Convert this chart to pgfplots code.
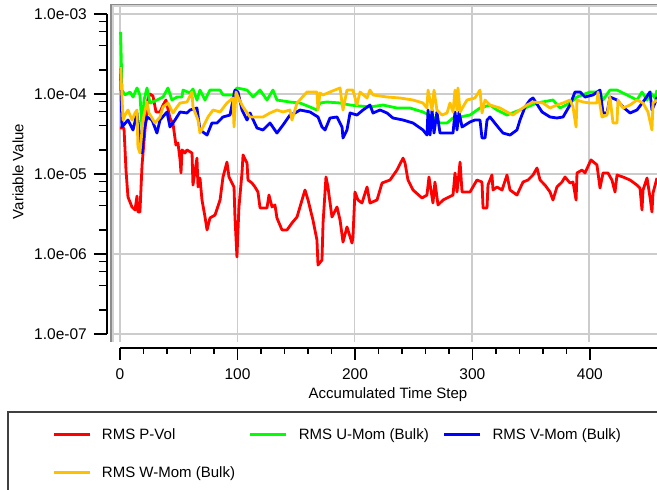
\documentclass[border=0pt]{standalone}
\usepackage{fontspec}
\setmainfont{Liberation Sans}
\usepackage{pgfplots}
\pgfplotsset{compat=1.18}
\definecolor{cred}{RGB}{255,0,0}
\definecolor{cgreen}{RGB}{0,255,0}
\definecolor{cblue}{RGB}{0,0,255}
\definecolor{corange}{RGB}{255,192,0}
\definecolor{gridgray}{RGB}{204,204,204}
\newcommand\tf{\fontsize{15}{18}\selectfont}
\newcommand\tkf{\fontsize{15.5}{18}\selectfont}
\begin{document}
\tf
\begin{tikzpicture}[x=1pt,y=1pt]
% ---------- main data axis (grid + curves) ----------
\begin{axis}[
  at={(112pt,148pt)}, anchor=south west,
  width=545pt, height=336pt, scale only axis,
  xmin=-6.82, xmax=457.8,
  ymode=log, ymin=7.943e-8, ymax=1.2589e-3,
  axis line style={draw=none},
  xtick={0,100,200,300,400},
  ytick={1e-7,1e-6,1e-5,1e-4,1e-3},
  xticklabels={}, yticklabels={},
  tick style={draw=none},
  grid=major,
  major grid style={line width=1.6pt, gridgray},
  legend columns=3,
  legend cell align=left,
  legend image code/.code={\draw[#1] (0pt,0pt) -- (36pt,0pt);},
  legend style={at={(axis description cs:-0.1101,-0.25)}, anchor=north west,
    draw=none, fill=none, inner sep=0pt, font=\tf, row sep=21pt,
    /tikz/every odd column/.append style={column sep=9pt},
    /tikz/every even column/.append style={column sep=12pt}},
]
\addplot[cred, line width=2.8pt, line join=round] coordinates {
(0,3.76e-5) (3.4,3.76e-5) (4.3,2.0e-5) (5.1,1.12e-5) (6.8,5.16e-6) (10.2,3.87e-6) (12.8,3.55e-6) (14.5,5.31e-6) (15.3,3.35e-6) (17,3.35e-6) (18.8,1.30e-5) (21.3,3.55e-5) (23.9,8.91e-5) (25.6,1.0e-4) (28.1,9.44e-5) (30.7,5.96e-5) (34.1,5.96e-5) (36.7,7.28e-5) (39.2,8.41e-5) (42.6,5.01e-5) (45.2,4.22e-5) (47.7,2.30e-5) (49.4,2.44e-5) (51.2,1.5e-5) (52,1.03e-5) (52.9,2.0e-5) (55.4,1.83e-5) (57.1,2.0e-5) (61.4,1.83e-5) (62.2,7.28e-6) (65.6,1.58e-5) (66.5,6.88e-6) (68.2,8.91e-6) (69.9,4.73e-6) (72.5,2.90e-6) (74.2,2.0e-6) (76.7,2.82e-6) (81,3.07e-6) (85.3,4.73e-6) (87.8,9.17e-6) (91.2,1.41e-5) (92.9,9.17e-6) (97.2,6.88e-6) (98,2.90e-6) (99.7,9.17e-7) (101.4,3.87e-6) (104,1.03e-5) (104.9,1.73e-5) (108.3,1.37e-5) (109.1,8.41e-6) (112.5,7.72e-6) (115.1,6.88e-6) (117.6,5.96e-6) (119.4,3.76e-6) (125.3,3.76e-6) (127,5.46e-6) (129.6,3.87e-6) (132.1,4.10e-6) (133.8,2.82e-6) (138.1,2.0e-6) (142.4,2.0e-6) (146.6,2.44e-6) (150.9,2.90e-6) (157.7,6.31e-6) (160.3,4.73e-6) (164.5,2.66e-6) (167.9,1.5e-6) (168.8,7.28e-7) (172.2,8.41e-7) (173.1,2.44e-6) (175.6,9.17e-6) (177.3,6.88e-6) (180.7,2.90e-6) (185,3.87e-6) (187.6,2.66e-6) (190.1,1.41e-6) (193.5,2.18e-6) (197.8,1.37e-6) (198.6,1.63e-6) (200.3,5.96e-6) (202.9,4.73e-6) (206.3,4.34e-6) (210.6,6.88e-6) (213.1,4.34e-6) (219.1,4.73e-6) (223.4,7.72e-6) (230.2,8.41e-6) (236.1,1.12e-5) (241.3,1.58e-5) (243,1.37e-5) (245.5,8.41e-6) (249.8,6.31e-6) (257.5,5.01e-6) (261.7,5.46e-6) (263.4,9.17e-6) (266.8,4.34e-6) (268.5,7.94e-6) (271.1,4.10e-6) (275.4,4.73e-6) (283.9,5.46e-6) (285.6,1.03e-5) (287.3,5.96e-6) (289.9,1.41e-5) (291.6,5.96e-6) (298.4,5.96e-6) (304.3,8.41e-6) (308.6,7.94e-6) (309.5,3.76e-6) (312.9,3.76e-6) (313.7,7.28e-6) (317.1,9.72e-6) (318,6.31e-6) (321.4,6.88e-6) (325.7,6.31e-6) (329.9,9.72e-6) (332.5,6.31e-6) (338.4,5.46e-6) (343.6,7.94e-6) (347.8,8.41e-6) (352.1,9.72e-6) (355.5,1.19e-5) (358.1,8.41e-6) (362.3,7.28e-6) (366.6,5.96e-6) (369.1,4.73e-6) (372.5,6.88e-6) (376.8,7.94e-6) (379.4,9.17e-6) (383.6,7.72e-6) (386.2,7.94e-6) (388.8,4.73e-6) (389.6,1.03e-5) (393.9,1.12e-5) (396.4,1.03e-5) (401.5,1.5e-5) (406.6,1.30e-5) (409.2,6.68e-6) (411.8,1.03e-5) (416,1.03e-5) (419.4,8.41e-6) (422,5.96e-6) (423.7,9.72e-6) (428.8,9.17e-6) (434.8,8.41e-6) (440.7,7.28e-6) (443.3,6.68e-6) (445,3.55e-6) (445.9,6.31e-6) (449.3,8.91e-6) (451.8,5.16e-6) (453.5,3.35e-6) (454.4,5.79e-6) (457.8,8.91e-6)
};
\addlegendentry{RMS P-Vol}
\addplot[cgreen, line width=2.8pt, line join=round] coordinates {
(0.5,5.96e-4) (1.7,1.12e-4) (4.3,9.72e-5) (8.5,1.059e-4) (11.1,9.17e-5) (14.5,1.19e-4) (17,9.72e-5) (18.8,3.76e-5) (20.5,8.41e-5) (23,1.19e-4) (25.6,7.72e-5) (31.5,8.41e-5) (36.7,9.17e-5) (40.9,1.19e-4) (44.3,8.41e-5) (48.6,9.17e-5) (52.9,9.17e-5) (53.7,1.12e-4) (59.7,1.029e-4) (62.2,1.155e-4) (65.6,8.41e-5) (68.2,1.12e-4) (72.5,8.41e-5) (76.7,1.12e-4) (85.3,1.12e-4) (87.8,9.72e-5) (96.3,9.72e-5) (99.7,1.19e-4) (108.3,1.12e-4) (113.4,9.17e-5) (119.4,1.12e-4) (125.3,8.41e-5) (130.4,1.12e-4) (133.8,8.41e-5) (144.9,7.94e-5) (153.5,7.72e-5) (162,6.88e-5) (167.9,6.31e-5) (170.5,7.72e-5) (176.5,7.94e-5) (187.6,7.72e-5) (196.1,7.28e-5) (213.1,6.88e-5) (224.2,7.28e-5) (236.1,6.68e-5) (247.2,6.68e-5) (258.3,5.96e-5) (266.8,5.16e-5) (272.8,4.34e-5) (278.8,4.34e-5) (283.9,5.01e-5) (289.9,5.16e-5) (298.4,5.46e-5) (306.9,6.68e-5) (315.4,7.28e-5) (321.4,6.31e-5) (329.9,5.46e-5) (341,6.31e-5) (355.5,7.72e-5) (369.1,8.41e-5) (375.1,6.68e-5) (383.6,7.72e-5) (389.6,9.17e-5) (400.7,1.059e-4) (409.2,1.059e-4) (411.8,8.41e-5) (417.7,1.12e-4) (423.7,1.12e-4) (432.2,9.72e-5) (440.7,8.41e-5) (445,1.059e-4) (449.3,8.41e-5) (451.8,1.059e-4) (456.1,8.91e-5) (457.8,1.12e-4)
};
\addlegendentry{RMS U-Mom (Bulk)}
\addplot[cblue, line width=2.8pt, line join=round] coordinates {
(0.5,2.18e-4) (1.7,3.87e-5) (6.8,4.73e-5) (11.1,3.55e-5) (14.5,5.79e-5) (16.2,3.55e-5) (18.8,1.83e-5) (20.5,3.55e-5) (23,5.16e-5) (27.3,4.73e-5) (31.5,3.25e-5) (34.1,4.73e-5) (40.1,5.96e-5) (42.6,3.87e-5) (46.9,4.73e-5) (51.2,5.96e-5) (57.1,5.79e-5) (59.7,6.31e-5) (65.6,6.68e-5) (68.2,3.55e-5) (74.2,3.07e-5) (78.4,4.34e-5) (82.7,4.34e-5) (87.8,5.16e-5) (93.8,5.46e-5) (98,1.12e-4) (100.6,1.059e-4) (104,6.31e-5) (108.3,4.73e-5) (110.8,5.79e-5) (116.8,3.76e-5) (121.9,3.55e-5) (127.9,4.34e-5) (133.8,3.25e-5) (139,4.10e-5) (144.9,5.46e-5) (149.2,5.79e-5) (153.5,6.31e-5) (162,5.96e-5) (168.8,5.16e-5) (172.2,3.87e-5) (174.8,3.55e-5) (179,5.01e-5) (185,5.16e-5) (189.3,3.87e-5) (190.1,2.82e-5) (193.5,3.55e-5) (196.1,5.79e-5) (202,5.46e-5) (207.2,6.31e-5) (213.1,7.28e-5) (215.7,5.79e-5) (221.7,6.31e-5) (227.6,5.79e-5) (232.7,5.01e-5) (241.3,4.73e-5) (249.8,4.34e-5) (258.3,3.55e-5) (261.7,3.07e-5) (262.6,6.31e-5) (264.3,3.07e-5) (266,6.31e-5) (267.7,3.25e-5) (270.2,5.96e-5) (272.8,3.25e-5) (278.8,3.25e-5) (283.9,3.25e-5) (285.6,5.96e-5) (287.3,3.55e-5) (289,5.96e-5) (291.6,3.87e-5) (298.4,4.47e-5) (302.6,4.73e-5) (306.9,4.73e-5) (308.6,2.82e-5) (311.2,2.82e-5) (312.9,4.73e-5) (315.4,5.16e-5) (322.2,3.87e-5) (326.5,3.25e-5) (332.5,3.07e-5) (338.4,3.55e-5) (341,4.73e-5) (345.3,6.88e-5) (349.5,8.41e-5) (352.1,8.91e-5) (359.8,5.96e-5) (366.6,5.16e-5) (372.5,5.01e-5) (377.7,5.16e-5) (383.6,7.28e-5) (387.9,1.059e-4) (392.2,1.059e-4) (396.4,9.17e-5) (403.2,9.72e-5) (409.2,1.12e-4) (411.8,5.79e-5) (415.2,5.79e-5) (417.7,9.17e-5) (423.7,8.41e-5) (428.8,6.88e-5) (434.8,5.79e-5) (440.7,6.31e-5) (445.9,7.94e-5) (451.8,1.059e-4) (453.5,6.31e-5) (456.1,7.72e-5) (457.8,9.17e-5)
};
\addlegendentry{RMS V-Mom (Bulk)}
\addplot[corange, line width=2.8pt, line join=round] coordinates {
(0.5,2.18e-4) (2.6,4.73e-5) (4.3,5.46e-5) (6.8,6.31e-5) (10.2,4.73e-5) (12.8,5.79e-5) (14.5,6.31e-5) (15.3,2.18e-5) (17,1.83e-5) (19.6,4.73e-5) (23,7.94e-5) (24.7,5.79e-5) (29.8,4.34e-5) (34.1,5.16e-5) (36.7,6.88e-5) (40.9,7.72e-5) (45.2,5.79e-5) (48.6,6.88e-5) (51.2,7.72e-5) (57.1,7.94e-5) (61.4,1.059e-4) (62.2,6.88e-5) (66.5,4.73e-5) (68.2,3.25e-5) (70.8,3.87e-5) (75,5.16e-5) (79.3,6.31e-5) (85.3,5.96e-5) (91.2,7.72e-5) (96.3,8.91e-5) (97.2,3.87e-5) (98.9,1.059e-4) (100.6,9.17e-5) (104.9,6.88e-5) (110.8,5.16e-5) (116.8,5.16e-5) (121.9,5.16e-5) (127.9,5.79e-5) (133.8,6.31e-5) (139,5.96e-5) (144.9,6.31e-5) (146.6,4.73e-5) (150.9,7.72e-5) (159.4,1.059e-4) (167.9,1.059e-4) (168.8,6.31e-5) (170.5,1.029e-4) (173.1,9.72e-5) (179,1.059e-4) (187.6,1.19e-4) (190.1,6.31e-5) (193.5,1.12e-4) (198.6,1.12e-4) (202,7.28e-5) (204.6,1.059e-4) (210.6,8.91e-5) (213.1,1.12e-4) (215.7,9.72e-5) (227.6,9.17e-5) (238.7,8.91e-5) (249.8,8.41e-5) (258.3,7.72e-5) (261.7,6.68e-5) (262.6,1.12e-4) (266,6.31e-5) (267.7,1.12e-4) (270.2,6.31e-5) (274.5,5.46e-5) (278.8,5.79e-5) (281.3,7.72e-5) (283.9,5.96e-5) (285.6,1.12e-4) (287.3,6.31e-5) (288.1,1.19e-4) (289.9,5.96e-5) (295.8,8.41e-5) (302.6,8.91e-5) (306.9,1.12e-4) (308.6,5.79e-5) (311.2,8.41e-5) (315.4,7.28e-5) (324,6.68e-5) (329.9,5.96e-5) (335,5.46e-5) (341,6.31e-5) (347,7.28e-5) (352.1,7.94e-5) (360.6,7.72e-5) (366.6,6.68e-5) (372.5,7.28e-5) (377.7,7.72e-5) (383.6,8.41e-5) (386.2,6.88e-5) (388.8,3.87e-5) (389.6,8.41e-5) (394.7,7.94e-5) (400.7,7.72e-5) (406.6,7.72e-5) (407.5,1.059e-4) (410.9,5.16e-5) (415.2,5.46e-5) (417.7,9.17e-5) (420.3,4.34e-5) (423.7,4.34e-5) (424.5,8.41e-5) (428.8,6.68e-5) (434.8,7.28e-5) (440.7,8.41e-5) (445.9,7.72e-5) (450.1,5.96e-5) (453.5,3.55e-5) (454.4,7.72e-5) (457.8,8.41e-5)
};
\addlegendentry{RMS W-Mom (Bulk)}
\end{axis}
% ---------- plot frame ----------
\draw[black!45, line width=1.5pt] (111,148) -- (111,485.5) -- (665,485.5);
\draw[black!18, line width=1.5pt] (113,148) -- (113,483.8) -- (665,483.8);
% ---------- y axis with ticks ----------
\begin{axis}[
  at={(107pt,156pt)}, anchor=south west,
  width=10pt, height=320pt, scale only axis,
  xmin=0, xmax=1,
  ymode=log, ymin=1e-7, ymax=1e-3,
  axis y line=left, axis x line=none,
  axis line style={-, black, line width=1.3pt},
  ytick={1e-7,1e-6,1e-5,1e-4,1e-3},
  yticklabels={1.0e-07,1.0e-06,1.0e-05,1.0e-04,1.0e-03},
  minor ytick={2e-7,4e-7,6e-7,8e-7,2e-6,4e-6,6e-6,8e-6,2e-5,4e-5,6e-5,8e-5,2e-4,4e-4,6e-4,8e-4},
  tick align=outside, major tick length=13pt, minor tick length=8pt,
  every tick/.style={black, line width=1.3pt},
  yticklabel style={font=\tkf, anchor=east, inner sep=0pt, xshift=-7pt},
]
\end{axis}
% ---------- x axis with ticks ----------
\begin{axis}[
  at={(120pt,142pt)}, anchor=south west,
  width=537.8pt, height=10pt, scale only axis,
  xmin=0, xmax=457.8, ymin=0, ymax=1,
  axis x line=bottom, axis y line=none,
  axis line style={-, black, line width=1.3pt},
  xtick={0,100,200,300,400},
  xticklabels={0,100,200,300,400},
  minor x tick num=4,
  tick align=outside, major tick length=12pt, minor tick length=6pt,
  every tick/.style={black, line width=1.3pt},
  xticklabel style={font=\tkf, anchor=north, inner sep=0pt, yshift=-8pt},
]
\end{axis}
% ---------- titles ----------
\node[font=\tf] at (388,95) {Accumulated Time Step};
\node[font=\tf, rotate=90] at (18,318.5) {Variable Value};
% ---------- legend box ----------
\draw[black!75, line width=1.3pt] (8,-20) -- (8,78) -- (680,78);
\pgfresetboundingbox
\path[use as bounding box] (0,0) rectangle (657,490);
\end{tikzpicture}
\end{document}
